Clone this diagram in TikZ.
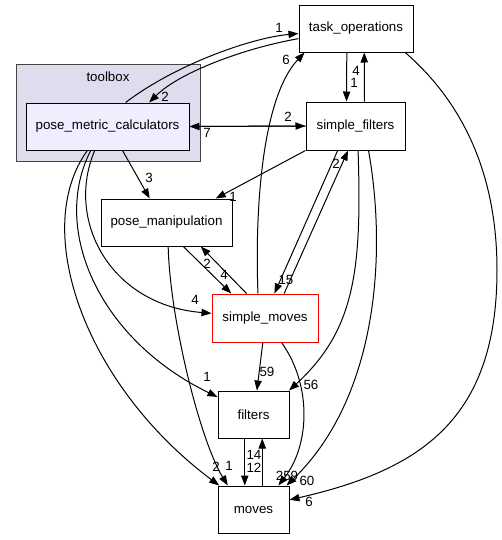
\documentclass[tikz,border=0pt]{standalone}
\usepackage{fontspec}
\setmainfont{Liberation Sans}
\usetikzlibrary{arrows.meta}
\definecolor{clusterfill}{HTML}{DDDDEE}
\definecolor{clusterline}{HTML}{444444}
\definecolor{pmcfill}{HTML}{EEEEFF}

\begin{document}
\begin{tikzpicture}[x=0.75pt,y=-0.75pt,
	dirnode/.style={draw=black,fill=white,line width=0.75pt,inner sep=0pt,minimum height=35.25pt,font=\fontsize{10}{12}\selectfont},
	lbl/.style={inner sep=0pt,font=\fontsize{10}{12}\selectfont},
	dep/.style={-{Triangle[length=7.5pt,width=5.5pt]},line width=0.75pt}]
			\useasboundingbox (0,0) rectangle (501,540);
			% the toolbox cluster
			\node[draw=clusterline,fill=clusterfill,line width=0.75pt,minimum width=138pt,minimum height=72.75pt,inner sep=0pt] (toolbox) at (108,112.5) {};
			\node[lbl] (toolboxname) at (108,77) {toolbox};
			% directories
			\node[dirnode,fill=pmcfill,minimum width=122.25pt] (pmc) at (107.5,126.5) {pose\_metric\_calculators};
			\node[dirnode,minimum width=85.5pt] (taskops) at (356,28.5) {task\_operations};
			\node[dirnode,minimum width=74.25pt,minimum height=36pt] (sfilters) at (355.5,126) {simple\_filters};
			\node[dirnode,minimum width=98.25pt] (posemanip) at (166.5,222.5) {pose\_manipulation};
			\node[dirnode,draw=red,minimum width=79.5pt,minimum height=36pt] (smoves) at (265,318) {simple\_moves};
			\node[dirnode,minimum width=53.25pt] (filters) at (253.5,414.5) {filters};
			\node[dirnode,minimum width=53.25pt] (moves) at (253.5,509.5) {moves};
			% dependencies
			\draw[dep] (pmc.53) .. controls (175,65) and (250,38) .. (taskops.185);
			\draw[dep] (taskops.190) .. controls (245,48) and (180,72) .. (pmc.30);
			\draw[dep] (pmc.east) -- (sfilters.west);
			\draw[dep] (sfilters.west) -- (pmc.east);
			\draw[dep] (pmc.302) -- (posemanip.125);
			\draw[dep] (pmc.242) .. controls (65,220) and (110,305) .. (smoves.175);
			\draw[dep] (pmc.235) .. controls (50,230) and (100,340) .. (filters.154);
			\draw[dep] (pmc.230) .. controls (30,230) and (85,385) .. (moves.145);
			\draw[dep] (taskops.249) -- (sfilters.110);
			\draw[dep] (sfilters.70) -- (taskops.289);
			\draw[dep] (sfilters.south west) -- (posemanip.26);
			\draw[dep] (smoves.106) .. controls (255,220) and (260,100) .. (taskops.205);
			\draw[dep] (sfilters.234) -- (smoves.69);
			\draw[dep] (smoves.52) -- (sfilters.253);
			\draw[dep] (posemanip.305) -- (smoves.144);
			\draw[dep] (smoves.127) -- (posemanip.325);
			\draw[dep] (smoves.265) -- (filters.82);
			\draw[dep] (sfilters.276) .. controls (362,270) and (355,330) .. (filters.34);
			\draw[dep] (sfilters.298) .. controls (388,260) and (375,400) .. (moves.36);
			\draw[dep] (smoves.304) .. controls (312,385) and (310,445) .. (moves.44);
			\draw[dep] (taskops.334) .. controls (460,100) and (497,170) .. (497,270) .. controls (497,420) and (420,470) .. (moves.15);
			\draw[dep] (filters.250) -- (moves.110);
			\draw[dep] (moves.70) -- (filters.290);
			\draw[dep] (posemanip.274) .. controls (170,320) and (200,440) .. (moves.137);
			% counts
			\node[lbl] (c1) at (279,28) {1};
			\node[lbl] (c2) at (165,97) {2};
			\node[lbl] (c3) at (207,133) {7};
			\node[lbl] (c4) at (288,117) {2};
			\node[lbl] (c5) at (149,178) {3};
			\node[lbl] (c6) at (195,300) {4};
			\node[lbl] (c7) at (207,377) {1};
			\node[lbl] (c8) at (216,467) {2};
			\node[lbl] (c9) at (229,466) {1};
			\node[lbl] (c10) at (356,71) {4};
			\node[lbl] (c11) at (354,83) {1};
			\node[lbl] (c12) at (233,197) {1};
			\node[lbl] (c13) at (286,60) {6};
			\node[lbl] (c14) at (286,280) {15};
			\node[lbl] (c15) at (336,164) {2};
			\node[lbl] (c16) at (207,264) {2};
			\node[lbl] (c17) at (224,275) {4};
			\node[lbl] (c18) at (267,372) {59};
			\node[lbl] (c19) at (311,385) {56};
			\node[lbl] (c20) at (254,455) {14};
			\node[lbl] (c21) at (254,468) {12};
			\node[lbl] (c22) at (287,476) {259};
			\node[lbl] (c23) at (307,481) {60};
			\node[lbl] (c24) at (309,502) {6};
		\end{tikzpicture}
\end{document}
